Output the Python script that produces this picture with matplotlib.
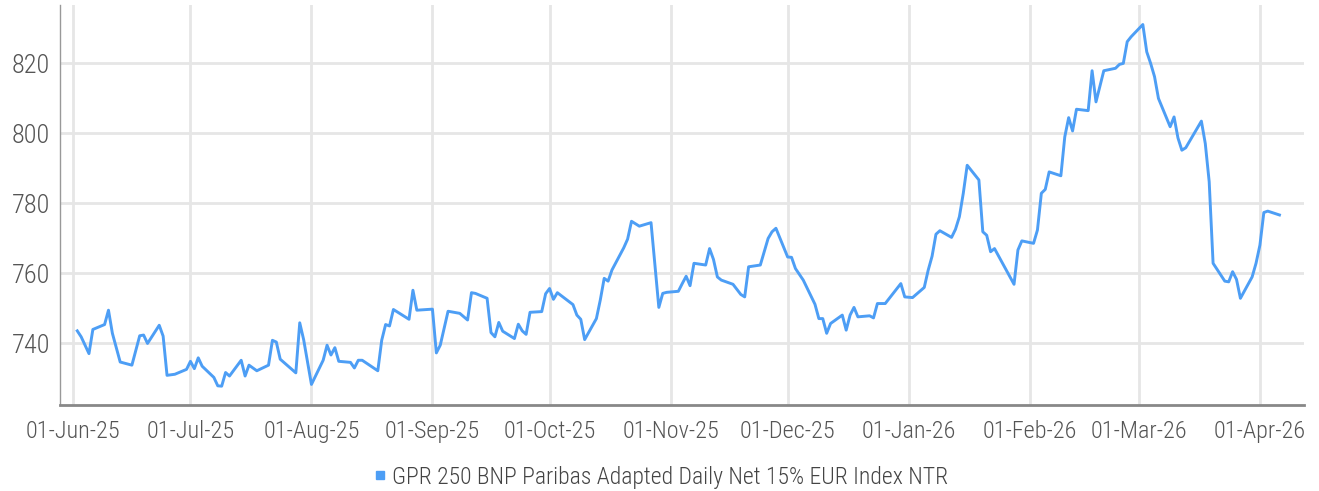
import matplotlib
matplotlib.use("Agg")
import matplotlib.pyplot as plt
import matplotlib.dates as mdates
from matplotlib.lines import Line2D
import pandas as pd

plt.rcParams['font.family'] = ['Roboto Condensed', 'Liberation Sans Narrow', 'DejaVu Sans']
plt.rcParams['font.weight'] = 'light'

series_name = "GPR 250 BNP Paribas Adapted Daily Net 15% EUR Index NTR"

dates = [
    "2025-06-02", "2025-06-03", "2025-06-05", "2025-06-06", "2025-06-09", "2025-06-10",
    "2025-06-11", "2025-06-13", "2025-06-16", "2025-06-18", "2025-06-19", "2025-06-20",
    "2025-06-23", "2025-06-24", "2025-06-25", "2025-06-27", "2025-06-30", "2025-07-01",
    "2025-07-02", "2025-07-03", "2025-07-04", "2025-07-07", "2025-07-08", "2025-07-09",
    "2025-07-10", "2025-07-11", "2025-07-14", "2025-07-15", "2025-07-16", "2025-07-18",
    "2025-07-21", "2025-07-22", "2025-07-23", "2025-07-24", "2025-07-28", "2025-07-29",
    "2025-07-30", "2025-08-01", "2025-08-04", "2025-08-05", "2025-08-06", "2025-08-07",
    "2025-08-08", "2025-08-11", "2025-08-12", "2025-08-13", "2025-08-14", "2025-08-18",
    "2025-08-19", "2025-08-20", "2025-08-21", "2025-08-22", "2025-08-26", "2025-08-27",
    "2025-08-28", "2025-09-01", "2025-09-02", "2025-09-03", "2025-09-05", "2025-09-08",
    "2025-09-10", "2025-09-11", "2025-09-12", "2025-09-15", "2025-09-16", "2025-09-17",
    "2025-09-18", "2025-09-19", "2025-09-22", "2025-09-23", "2025-09-24", "2025-09-25",
    "2025-09-26", "2025-09-29", "2025-09-30", "2025-10-01", "2025-10-02", "2025-10-03",
    "2025-10-07", "2025-10-08", "2025-10-09", "2025-10-10", "2025-10-13", "2025-10-14",
    "2025-10-15", "2025-10-16", "2025-10-17", "2025-10-20", "2025-10-21", "2025-10-22",
    "2025-10-24", "2025-10-27", "2025-10-29", "2025-10-30", "2025-10-31", "2025-11-03",
    "2025-11-04", "2025-11-05", "2025-11-06", "2025-11-07", "2025-11-10", "2025-11-11",
    "2025-11-12", "2025-11-13", "2025-11-14", "2025-11-17", "2025-11-19", "2025-11-20",
    "2025-11-21", "2025-11-24", "2025-11-25", "2025-11-26", "2025-11-27", "2025-11-28",
    "2025-12-01", "2025-12-02", "2025-12-03", "2025-12-05", "2025-12-08", "2025-12-09",
    "2025-12-10", "2025-12-11", "2025-12-12", "2025-12-15", "2025-12-16", "2025-12-17",
    "2025-12-18", "2025-12-19", "2025-12-22", "2025-12-23", "2025-12-24", "2025-12-26",
    "2025-12-30", "2025-12-31", "2026-01-02", "2026-01-05", "2026-01-06", "2026-01-07",
    "2026-01-08", "2026-01-09", "2026-01-12", "2026-01-13", "2026-01-14", "2026-01-15",
    "2026-01-16", "2026-01-19", "2026-01-20", "2026-01-21", "2026-01-22", "2026-01-23",
    "2026-01-28", "2026-01-29", "2026-01-30", "2026-02-02", "2026-02-03", "2026-02-04",
    "2026-02-05", "2026-02-06", "2026-02-09", "2026-02-10", "2026-02-11", "2026-02-12",
    "2026-02-13", "2026-02-16", "2026-02-17", "2026-02-18", "2026-02-20", "2026-02-23",
    "2026-02-24", "2026-02-25", "2026-02-26", "2026-02-27", "2026-03-02", "2026-03-03",
    "2026-03-04", "2026-03-05", "2026-03-06", "2026-03-09", "2026-03-10", "2026-03-11",
    "2026-03-12", "2026-03-13", "2026-03-17", "2026-03-18", "2026-03-19", "2026-03-20",
    "2026-03-23", "2026-03-24", "2026-03-25", "2026-03-26", "2026-03-27", "2026-03-30",
    "2026-03-31", "2026-04-01", "2026-04-02", "2026-04-03", "2026-04-06",
]

values = [
    743.6, 741.9, 737.1, 744.0, 745.4, 749.5,
    742.9, 734.7, 733.8, 742.2, 742.4, 740.0,
    745.2, 742.1, 730.9, 731.2, 732.6, 734.9,
    732.8, 735.9, 733.5, 730.3, 727.9, 727.8,
    731.7, 730.7, 735.2, 730.7, 733.8, 732.2,
    733.8, 740.9, 740.4, 735.5, 731.6, 745.9,
    741.1, 728.3, 735.2, 739.5, 736.7, 738.8,
    734.9, 734.6, 733.0, 735.2, 735.2, 732.2,
    740.9, 745.4, 745.0, 749.7, 746.9, 755.2,
    749.5, 749.8, 737.3, 739.5, 749.2, 748.6,
    746.7, 754.5, 754.3, 752.9, 743.1, 741.9,
    746.0, 743.5, 741.4, 745.5, 743.6, 742.6,
    748.9, 749.1, 754.2, 755.7, 752.6, 754.5,
    751.1, 748.1, 746.9, 741.1, 747.1, 752.4,
    758.6, 757.8, 761.0, 767.3, 769.8, 774.9,
    773.5, 774.5, 750.3, 754.3, 754.6, 754.9,
    757.1, 759.2, 756.5, 762.9, 762.4, 767.1,
    764.0, 759.0, 758.1, 756.9, 754.0, 753.3,
    761.9, 762.4, 766.2, 770.0, 771.9, 772.9,
    764.7, 764.6, 761.4, 758.1, 751.2, 747.1,
    747.1, 742.9, 745.7, 748.1, 743.8, 748.1,
    750.3, 747.6, 747.9, 747.3, 751.4, 751.4,
    757.1, 753.3, 753.1, 756.0, 760.9, 764.9,
    771.2, 772.2, 770.3, 772.6, 776.2, 782.9,
    790.9, 786.7, 771.9, 770.9, 766.2, 767.1,
    756.9, 766.7, 769.3, 768.6, 772.4, 782.9,
    784.0, 789.0, 787.9, 799.0, 804.5, 800.7,
    806.9, 806.5, 817.9, 809.0, 817.9, 818.6,
    819.7, 820.0, 826.2, 827.6, 831.1, 823.3,
    820.0, 816.2, 810.0, 801.9, 804.7, 798.7,
    795.2, 795.9, 803.5, 797.1, 786.2, 762.9,
    757.8, 757.6, 760.5, 758.3, 752.9, 759.0,
    762.9, 768.1, 777.4, 777.8, 776.7,
]

month_ticks = pd.date_range("2025-06-01", "2026-04-01", freq="MS")
y_ticks = [740, 760, 780, 800, 820]

line_color = "#4d9ef5"
grid_color = "#e6e6e6"
text_color = "#555555"

fig = plt.figure(figsize=(13.19, 4.91), dpi=100)
ax = fig.add_axes([0.0455, 0.175, 0.9435, 0.815])

x = pd.to_datetime(dates)
ax.plot(x, values, color=line_color, linewidth=2.1, zorder=3)

ax.set_xlim(pd.Timestamp("2025-05-28 14:00"), pd.Timestamp("2026-04-12 10:00"))
ax.set_ylim(722.4, 836.7)

ax.set_xticks(month_ticks)
ax.xaxis.set_major_formatter(mdates.DateFormatter("%d-%b-%y"))
ax.set_yticks(y_ticks)

ax.grid(True, color=grid_color, linewidth=2.0, zorder=0)
ax.set_axisbelow(True)

for side in ("top", "right"):
    ax.spines[side].set_visible(False)
ax.spines["left"].set_color("#999999")
ax.spines["left"].set_linewidth(1.0)
ax.spines["bottom"].set_color("#888888")
ax.spines["bottom"].set_linewidth(2.0)

ax.tick_params(axis="x", length=0, pad=11, labelsize=17.5, labelcolor=text_color)
ax.tick_params(axis="y", length=0, pad=7, labelsize=19, labelcolor=text_color)

handle = Line2D([], [], linestyle="none", marker="s", markersize=6,
                color=line_color)
fig.legend([handle], [series_name], loc="center", bbox_to_anchor=(0.5, 0.028),
           frameon=False, fontsize=17, labelcolor="#444444",
           handletextpad=0.1, handlelength=0.8)

fig.savefig("out.png", dpi=100)
